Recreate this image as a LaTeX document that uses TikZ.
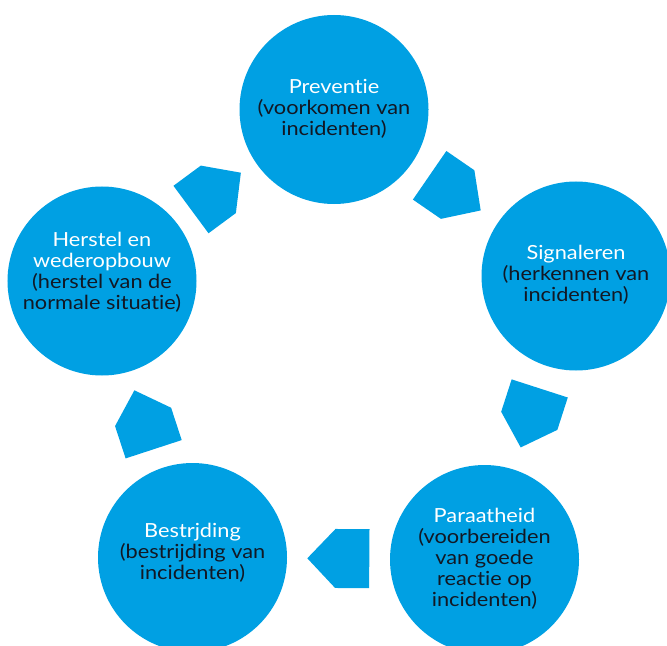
\documentclass[tikz,border=0pt]{standalone}
\usepackage{fontspec}
\setmainfont{Lato}[Ligatures=NoCommon, FakeStretch=1.12]
\usetikzlibrary{shapes.symbols,calc}
\definecolor{cblue}{RGB}{0,160,227}
\definecolor{ctext}{RGB}{18,24,36}
\begin{document}
\begin{tikzpicture}[x=1bp,y=-1bp,
  phase/.style={circle, fill=cblue, minimum size=189bp, inner sep=0pt},
  lbl/.style={align=center, font=\fontsize{19.5}{21}\selectfont, text=ctext, inner sep=0pt},
  flow/.style={signal, signal to=east, signal from=nowhere, signal pointer angle=93,
    fill=cblue, minimum width=62bp, minimum height=59bp, inner sep=0pt,
    sloped, allow upside down, anchor=west}]
\useasboundingbox (0,0) rectangle (667,646);
\node[phase] (c1) at (334,109.5) {};
\node[phase] (c2) at (576,276) {};
\node[phase] (c3) at (484.5,559.5) {};
\node[phase] (c4) at (192.5,557.5) {};
\node[phase] (c5) at (102,281) {};
\node[lbl] (t1) at (334,109) {\textcolor{white}{Preventie}\\(voorkomen van\\incidenten)};
\node[lbl] (t2) at (576,274.5) {\textcolor{white}{Signaleren}\\(herkennen van\\incidenten)};
\node[lbl] (t3) at (484.5,559) {\textcolor{white}{Paraatheid}\\(voorbereiden\\van goede\\reactie op\\incidenten)};
\node[lbl] (t4) at (192.5,553) {\textcolor{white}{Bestrjding}\\(bestrijding van\\incidenten)};
\node[lbl] (t5) at (102,272.5) {\textcolor{white}{Herstel en}\\\textcolor{white}{wederopbouw}\\(herstel van de\\normale situatie)};
\coordinate (m1) at ($(c1)!.5!(c2)$);
\coordinate (m2) at ($(c2)!.5!(c3)$);
\coordinate (m3) at ($(c3)!.5!(c4)$);
\coordinate (m4) at ($(c4)!.5!(c5)+(-4,1)$);
\coordinate (m5) at ($(c5)!.5!(c1)+(-3,-5)$);
\path ($(m1)!31bp!(c1)$) -- ($(m1)!31bp!(c2)$) node[pos=0, flow] (a1) {};
\path ($(m2)!31bp!(c2)$) -- ($(m2)!31bp!(c3)$) node[pos=0, flow] (a2) {};
\path ($(m3)!31bp!(c3)$) -- ($(m3)!31bp!(c4)$) node[pos=0, flow] (a3) {};
\path ($(m4)!31bp!(c4)$) -- ($(m4)!31bp!(c5)$) node[pos=0, flow] (a4) {};
\path ($(m5)!31bp!(c5)$) -- ($(m5)!31bp!(c1)$) node[pos=0, flow] (a5) {};
\end{tikzpicture}
\end{document}
